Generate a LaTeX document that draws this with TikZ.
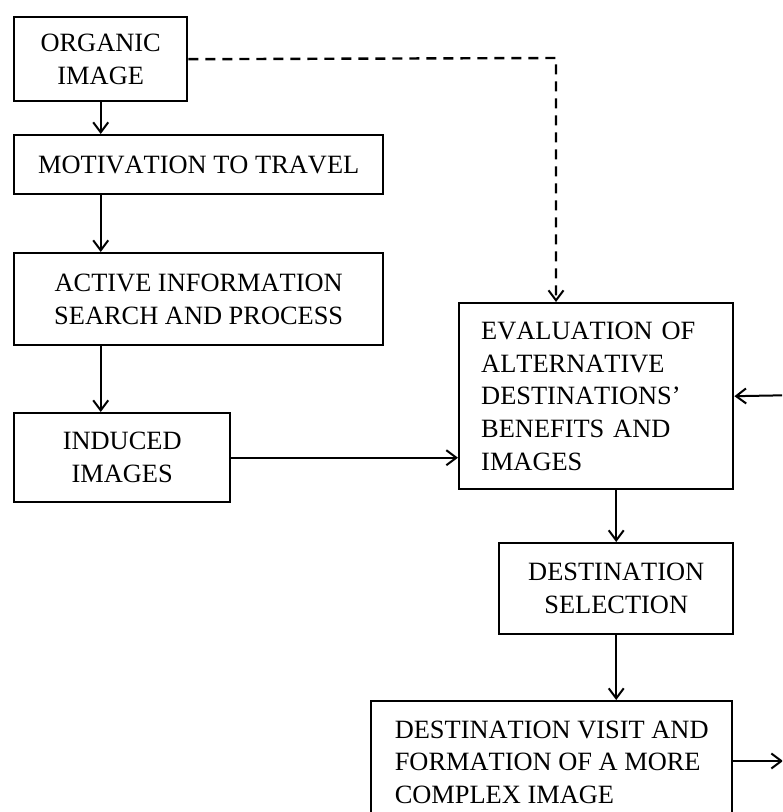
\documentclass[tikz,border=0pt]{standalone}
\usepackage{fontspec}
\setmainfont[Kerning=Off]{Liberation Serif}
\usetikzlibrary{arrows.meta}
\begin{document}
\begin{tikzpicture}[x=0.5pt,y=-0.5pt,
    box/.style={draw,line width=1.2pt,rectangle,anchor=north west,align=center,inner sep=0pt,
        font=\fontsize{13.2pt}{16.4pt}\selectfont},
    leftbox/.style={box,align=left,inner xsep=11pt},
    arr/.style={line width=1pt,-{Straight Barb[length=5pt,width=7.5pt,line width=1pt]}},
    dasharr/.style={arr,line width=1.2pt,dash pattern=on 5pt off 3.5pt}]
        \useasboundingbox (0,0) rectangle (782,812);
        \clip (0,0) rectangle (782,812);
        %% Left column
        \node[box,minimum width=86.5pt,minimum height=42pt] (organic) at (13,16) {ORGANIC\\IMAGE};
        \node[box,minimum width=184.5pt,minimum height=29.5pt] (motivation) at (13,134) {MOTIVATION TO TRAVEL};
        \node[box,minimum width=184.5pt,minimum height=46pt] (active) at (13,252) {ACTIVE INFORMATION\\SEARCH AND PROCESS};
        \node[box,minimum width=108pt,minimum height=44.5pt] (induced) at (13,412) {INDUCED\\IMAGES};
        %% Right column
        \node[leftbox,text width=115pt,minimum height=93pt] (eval) at (458,302) {EVALUATION OF\\ALTERNATIVE\\DESTINATIONS'\\BENEFITS AND\\IMAGES};
        \node[box,minimum width=117pt,minimum height=45.5pt] (dest) at (498,542) {DESTINATION\\SELECTION};
        \node[box,align=left,minimum width=180.5pt,minimum height=61pt] (visit) at (370,700) {DESTINATION VISIT AND\\FORMATION OF A MORE\\COMPLEX IMAGE};
        %% Free ends
        \coordinate (bend) at (556,58);
        \coordinate (feedback) at (800,395);
        \coordinate (out) at (783,761);
        %% Arrows
        \draw[arr] (organic.south) -- (organic.south |- motivation.north);
        \draw[arr] (motivation.south -| organic.south) -- (active.north -| organic.south);
        \draw[arr] (active.south -| organic.south) -- (induced.north -| organic.south);
        \draw[arr] (induced.east) -- (induced.east -| eval.west);
        \draw[dasharr] (organic.east) -- (bend) -- (bend |- eval.north);
        \draw[arr] (feedback) -- (eval.east);
        \draw[arr] (eval.south -| dest.north) -- (dest.north);
        \draw[arr] (dest.south) -- (dest.south |- visit.north);
        \draw[arr] (visit.east |- out) -- (out);
\end{tikzpicture}
\end{document}
